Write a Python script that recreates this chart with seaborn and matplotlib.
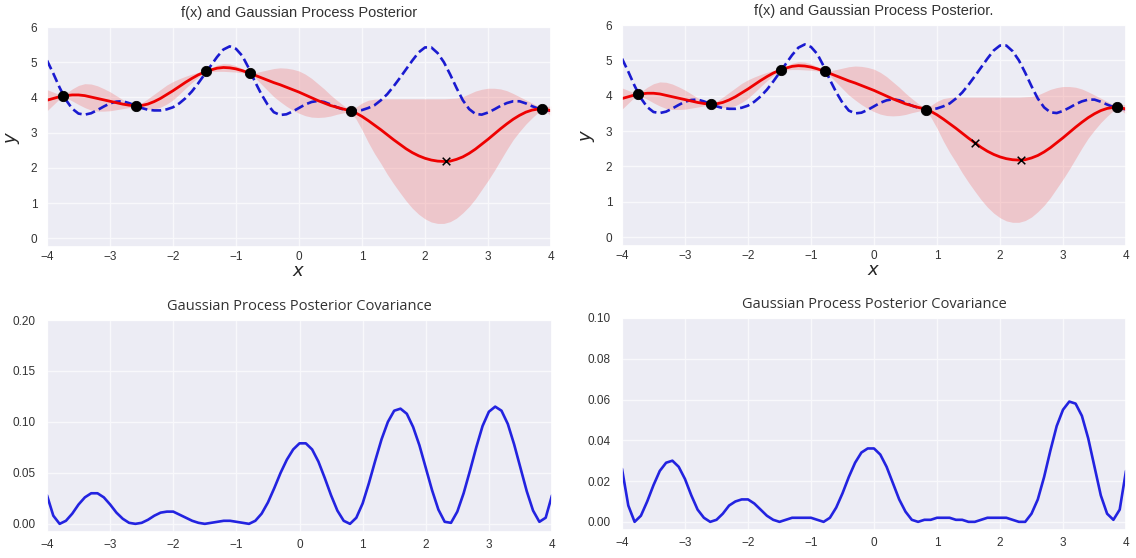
import numpy as np
import pandas as pd
import matplotlib
matplotlib.use("Agg")
import matplotlib.pyplot as plt
import seaborn as sns

# Evaluation grid shared by every curve
x_grid = np.round(np.arange(-4.0, 4.0001, 0.1), 1)

# Latent function f(x)
f_true = [
    5.05, 4.68, 4.28, 3.93, 3.68, 3.54, 3.51, 3.55, 3.64, 3.74,
    3.83, 3.88, 3.89, 3.84, 3.77, 3.70, 3.65, 3.63, 3.63, 3.66,
    3.72, 3.83, 3.98, 4.17, 4.40, 4.65, 4.90, 5.15, 5.36, 5.45,
    5.38, 5.18, 4.84, 4.45, 4.10, 3.80, 3.58, 3.50, 3.52, 3.60,
    3.70, 3.80, 3.87, 3.90, 3.87, 3.80, 3.72, 3.66, 3.63, 3.62,
    3.64, 3.70, 3.78, 3.92, 4.09, 4.31, 4.55, 4.80, 5.05, 5.28,
    5.42, 5.42, 5.26, 5.00, 4.65, 4.27, 3.92, 3.67, 3.53, 3.51,
    3.57, 3.66, 3.76, 3.84, 3.89, 3.89, 3.83, 3.75, 3.68, 3.64,
    3.62,
]

# GP posterior mean
post_mean = [
    3.92, 3.97, 4.02, 4.05, 4.07, 4.07, 4.05, 4.01, 3.97, 3.93,
    3.89, 3.85, 3.81, 3.78, 3.76, 3.77, 3.81, 3.88, 3.97, 4.08,
    4.19, 4.31, 4.43, 4.54, 4.64, 4.72, 4.78, 4.83, 4.85, 4.84,
    4.81, 4.76, 4.70, 4.63, 4.56, 4.49, 4.42, 4.36, 4.29, 4.22,
    4.15, 4.07, 3.99, 3.91, 3.84, 3.77, 3.72, 3.67, 3.63, 3.56,
    3.46, 3.34, 3.21, 3.08, 2.94, 2.80, 2.67, 2.54, 2.43, 2.34,
    2.27, 2.22, 2.19, 2.18, 2.19, 2.24, 2.31, 2.41, 2.53, 2.67,
    2.81, 2.96, 3.11, 3.25, 3.38, 3.49, 3.58, 3.64, 3.67, 3.67,
    3.62,
]

# Confidence band edges
band_lo = [
    3.62, 3.79, 3.96, 3.99, 3.90, 3.80, 3.71, 3.64, 3.61, 3.61,
    3.62, 3.65, 3.68, 3.71, 3.74, 3.70, 3.66, 3.67, 3.72, 3.81,
    3.93, 4.09, 4.26, 4.42, 4.57, 4.70, 4.73, 4.74, 4.74, 4.73,
    4.72, 4.70, 4.68, 4.56, 4.38, 4.20, 4.02, 3.88, 3.75, 3.64,
    3.55, 3.48, 3.44, 3.43, 3.44, 3.47, 3.52, 3.56, 3.60, 3.40,
    3.08, 2.72, 2.40, 2.12, 1.82, 1.55, 1.30, 1.06, 0.85, 0.68,
    0.55, 0.46, 0.42, 0.42, 0.47, 0.57, 0.72, 0.90, 1.12, 1.38,
    1.64, 1.92, 2.22, 2.52, 2.80, 3.03, 3.24, 3.42, 3.58, 3.62,
    3.48,
]
band_hi = [
    4.22, 4.15, 4.08, 4.11, 4.24, 4.34, 4.39, 4.38, 4.33, 4.25,
    4.16, 4.05, 3.94, 3.85, 3.78, 3.84, 3.96, 4.09, 4.22, 4.35,
    4.45, 4.53, 4.60, 4.66, 4.71, 4.74, 4.83, 4.92, 4.96, 4.95,
    4.90, 4.82, 4.72, 4.70, 4.74, 4.78, 4.82, 4.84, 4.83, 4.80,
    4.75, 4.66, 4.54, 4.39, 4.24, 4.07, 3.92, 3.78, 3.66, 3.72,
    3.84, 3.92, 3.95, 3.96, 3.96, 3.96, 3.96, 3.96, 3.96, 3.96,
    3.96, 3.96, 3.96, 3.96, 3.97, 3.98, 4.02, 4.10, 4.18, 4.23,
    4.26, 4.26, 4.24, 4.19, 4.11, 4.02, 3.93, 3.84, 3.74, 3.73,
    3.76,
]

# Observed training points
obs_x = [-3.75, -2.58, -1.47, -0.77, 0.83, 3.85]
obs_y = [4.04, 3.76, 4.74, 4.69, 3.61, 3.67]

# Proposed sample locations
next_x_left = [2.33]
next_y_left = [2.18]
next_x_right = [1.60, 2.33]
next_y_right = [2.67, 2.18]

# Posterior variance along the grid
cov_left = [
    0.028, 0.008, 0.000, 0.003, 0.010, 0.019, 0.026, 0.030, 0.030, 0.026,
    0.019, 0.011, 0.005, 0.001, 0.000, 0.001, 0.004, 0.008, 0.011, 0.012,
    0.012, 0.009, 0.006, 0.003, 0.001, 0.000, 0.001, 0.002, 0.003, 0.003,
    0.002, 0.001, 0.000, 0.003, 0.010, 0.021, 0.035, 0.050, 0.063, 0.073,
    0.079, 0.079, 0.073, 0.061, 0.045, 0.028, 0.013, 0.003, 0.000, 0.006,
    0.020, 0.040, 0.062, 0.083, 0.100, 0.111, 0.113, 0.108, 0.095, 0.077,
    0.055, 0.033, 0.014, 0.002, 0.001, 0.012, 0.030, 0.052, 0.075, 0.096,
    0.110, 0.115, 0.111, 0.098, 0.078, 0.055, 0.032, 0.013, 0.002, 0.006,
    0.028,
]
cov_right = [
    0.026, 0.008, 0.000, 0.003, 0.010, 0.018, 0.025, 0.029, 0.030, 0.027,
    0.021, 0.013, 0.006, 0.002, 0.000, 0.001, 0.004, 0.008, 0.010, 0.011,
    0.011, 0.009, 0.006, 0.003, 0.001, 0.000, 0.001, 0.002, 0.002, 0.002,
    0.002, 0.001, 0.000, 0.002, 0.007, 0.014, 0.022, 0.029, 0.034, 0.036,
    0.036, 0.033, 0.027, 0.019, 0.011, 0.005, 0.001, 0.000, 0.001, 0.001,
    0.002, 0.002, 0.002, 0.001, 0.001, 0.000, 0.000, 0.001, 0.002, 0.002,
    0.002, 0.002, 0.001, 0.000, 0.000, 0.004, 0.011, 0.022, 0.035, 0.047,
    0.055, 0.059, 0.058, 0.052, 0.041, 0.027, 0.013, 0.004, 0.001, 0.006,
    0.025,
]

top_title = "f(x) and Gaussian Process Posterior"
bottom_title = "Gaussian Process Posterior Covariance"

sns.set_theme(style="darkgrid")
plt.rcParams["font.family"] = ["Liberation Sans", "DejaVu Sans"]
plt.rcParams["axes.facecolor"] = "#ECECF4"
plt.rcParams["grid.color"] = "#F8F8FB"
plt.rcParams["text.color"] = "#333333"
plt.rcParams["xtick.color"] = "#333333"
plt.rcParams["ytick.color"] = "#333333"

W, H = 1136, 558
fig = plt.figure(figsize=(W / 100, H / 100), dpi=100)
fig.patch.set_facecolor("white")


def add_axes(left, top, right, bottom):
    return fig.add_axes([left / W, 1 - bottom / H, (right - left) / W, (bottom - top) / H])


curves = pd.DataFrame({
    "x": x_grid, "f": f_true, "mean": post_mean,
    "lo": band_lo, "hi": band_hi,
    "cov_l": cov_left, "cov_r": cov_right,
})


def posterior_panel(ax, nx, ny, title_suffix=""):
    ax.fill_between(curves["x"], curves["lo"], curves["hi"],
                    color="#F08080", alpha=0.35, linewidth=0)
    sns.lineplot(data=curves, x="x", y="f", ax=ax, color="#1A1AD0",
                 linestyle="--", linewidth=1.9, dashes=(3.6, 1.6))
    sns.lineplot(data=curves, x="x", y="mean", ax=ax, color="#EE0000",
                 linewidth=2.0)
    sns.scatterplot(x=obs_x, y=obs_y, ax=ax, color="black", s=55,
                    edgecolor="black", zorder=5)
    sns.scatterplot(x=nx, y=ny, ax=ax, color="black", marker="x", s=30,
                    linewidth=1.1, zorder=5)
    ax.set_xlim(-4, 4)
    ax.set_ylim(-0.25, 6)
    ax.set_xticks(range(-4, 5))
    ax.set_yticks(range(0, 7))
    ax.set_title(top_title + title_suffix, fontsize=10.5, pad=7)
    ax.set_xlabel("$x$", fontsize=13, labelpad=0)
    ax.set_ylabel("$y$", fontsize=13, labelpad=6)
    ax.tick_params(axis="both", length=0, labelsize=8.5)
    ax.tick_params(axis="x", pad=3)
    ax.tick_params(axis="y", pad=7)


def covariance_panel(ax, col, ymax, step):
    sns.lineplot(data=curves, x="x", y=col, ax=ax, color="#2323E0",
                 linewidth=1.9)
    ax.set_xlim(-4, 4)
    ax.set_ylim(-ymax * 0.04, ymax)
    ax.set_xticks(range(-4, 5))
    ticks = np.round(np.arange(0, ymax + step / 2, step), 2)
    ax.set_yticks(ticks)
    ax.set_yticklabels([f"{t:.2f}" for t in ticks])
    ax.set_xlabel("")
    ax.set_ylabel("")
    ax.set_title(bottom_title, fontsize=10.5, family=["Open Sans", "DejaVu Sans"], pad=7)
    ax.tick_params(axis="both", length=0, labelsize=8.5)
    ax.tick_params(axis="x", pad=5)
    ax.tick_params(axis="y", pad=8)


ax_tl = add_axes(47, 27, 551, 247)
ax_tr = add_axes(622, 25, 1126, 246)
ax_bl = add_axes(47, 320, 552, 532)
ax_br = add_axes(622, 318, 1126, 530)

posterior_panel(ax_tl, next_x_left, next_y_left)
posterior_panel(ax_tr, next_x_right, next_y_right, ".")
covariance_panel(ax_bl, "cov_l", 0.20, 0.05)
covariance_panel(ax_br, "cov_r", 0.10, 0.02)

fig.savefig("out.png", dpi=100)
